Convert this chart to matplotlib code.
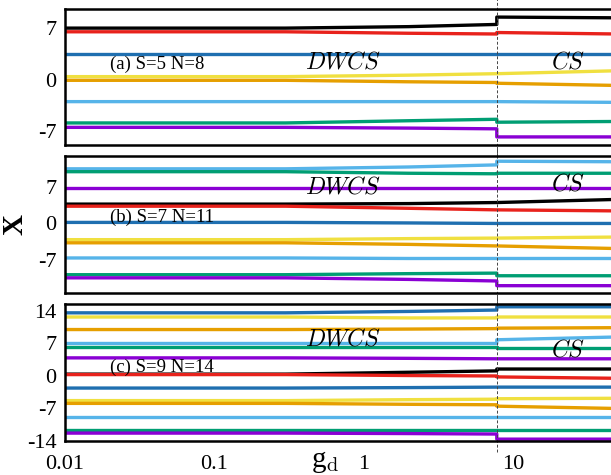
import numpy as np
import matplotlib.pyplot as plt

plt.rcParams['font.family'] = ['Liberation Serif', 'DejaVu Serif']
plt.rcParams['mathtext.fontset'] = 'cm'

# g_d sample points; the transition sits at g_d ~ 7.8 (listed twice for the jump)
g_c = 7.8
gd = [0.01, 0.3, 2.0, g_c, g_c, 50.0]

c_k = 'black'
c_r = '#e8221c'
c_b = '#1f6fb0'
c_y = '#f0e040'
c_o = '#e69f00'
c_lb = '#56b4e9'
c_g = '#009e73'
c_p = '#8a00d4'

# (a) S=5 N=8
xa = [
    (c_k,  [7.0, 7.0, 7.2, 7.5, 8.5, 8.4]),
    (c_r,  [6.5, 6.5, 6.3, 6.2, 6.4, 6.2]),
    (c_b,  [3.5, 3.5, 3.5, 3.5, 3.5, 3.5]),
    (c_y,  [0.4, 0.4, 0.6, 0.8, 0.8, 1.2]),
    (c_o,  [-0.1, -0.1, -0.3, -0.4, -0.5, -0.8]),
    (c_lb, [-3.0, -3.0, -3.0, -3.0, -3.0, -3.1]),
    (c_g,  [-5.9, -5.9, -5.6, -5.4, -5.8, -5.7]),
    (c_p,  [-6.5, -6.5, -6.6, -6.7, -7.8, -7.8]),
]

# (b) S=7 N=11
xb = [
    (c_lb, [10.45, 10.45, 10.8, 11.2, 11.9, 11.8]),
    (c_g,  [9.9, 9.9, 9.6, 9.5, 9.6, 9.6]),
    (c_p,  [6.8, 6.8, 6.8, 6.8, 6.8, 6.8]),
    (c_k,  [3.7, 3.7, 3.8, 4.0, 4.0, 4.6]),
    (c_r,  [3.3, 3.3, 2.9, 2.6, 2.6, 2.4]),
    (c_b,  [0.2, 0.2, 0.1, 0.0, 0.0, 0.0]),
    (c_y,  [-3.1, -3.1, -2.9, -2.8, -2.8, -2.6]),
    (c_o,  [-3.7, -3.7, -4.0, -4.3, -4.3, -4.8]),
    (c_lb, [-6.6, -6.6, -6.7, -6.7, -6.7, -6.7]),
    (c_g,  [-9.8, -9.8, -9.6, -9.5, -10.0, -10.0]),
    (c_p,  [-10.4, -10.4, -10.7, -11.0, -11.9, -11.9]),
]

# (c) S=9 N=14
xc = [
    (c_b,  [13.6, 13.6, 13.9, 14.2, 14.9, 14.9]),
    (c_y,  [12.7, 12.7, 12.5, 12.5, 12.7, 12.7]),
    (c_o,  [10.0, 10.0, 10.1, 10.2, 10.3, 10.4]),
    (c_lb, [7.0, 7.0, 7.0, 7.0, 7.8, 8.4]),
    (c_g,  [6.3, 6.3, 6.3, 6.3, 6.1, 6.1]),
    (c_p,  [3.9, 3.9, 3.8, 3.7, 3.7, 3.7]),
    (c_k,  [0.4, 0.4, 0.8, 1.1, 1.5, 1.5]),
    (c_r,  [0.3, 0.3, 0.1, 0.0, -0.2, -0.5]),
    (c_b,  [-2.6, -2.6, -2.5, -2.4, -2.4, -2.4]),
    (c_y,  [-5.3, -5.3, -5.1, -5.0, -4.9, -4.8]),
    (c_o,  [-5.9, -5.9, -6.1, -6.2, -6.5, -7.0]),
    (c_lb, [-8.8, -8.8, -8.8, -8.8, -8.8, -8.8]),
    (c_g,  [-11.6, -11.6, -11.6, -11.6, -11.6, -11.6]),
    (c_p,  [-12.3, -12.3, -12.4, -12.5, -13.6, -13.6]),
]

# lines, tag, ylim, yticks, tag y, DWCS y, CS y (axes fraction)
panels = [
    (xa, '(a) S=5 N=8', (-8.9, 9.6), [7, 0, -7], 0.59, 0.61, 0.61),
    (xb, '(b) S=7 N=11', (-13.3, 12.9), [7, 0, -7], 0.555, 0.77, 0.79),
    (xc, '(c) S=9 N=14', (-14, 15.5), [14, 7, 0, -7, -14], 0.54, 0.74, 0.66),
]

W, H = 611, 475
fig = plt.figure(figsize=(W / 100, H / 100), dpi=100)

boxes = [(9, 145), (156, 293), (304, 441)]
x0 = 65
xmax = 0.01 * 10 ** ((W - x0) / 149.3)

axes = []
for (lines, tag, ylim, yt, tag_y, dw_y, cs_y), (t, b) in zip(panels, boxes):
    ax = fig.add_axes([x0 / W, 1 - b / H, (W - x0) / W, (b - t) / H])
    for col, v in lines:
        ax.plot(gd, v, color=col, lw=2.4, solid_capstyle='butt')
    ax.axvline(g_c, ymin=-0.08, ymax=1.08, color='#444444', lw=0.7,
               ls=(0, (3, 2)), clip_on=False)
    ax.set_xscale('log')
    ax.set_xlim(0.01, xmax)
    ax.set_ylim(*ylim)
    ax.set_yticks(yt)
    ax.set_yticklabels([str(v) for v in yt])
    ax.tick_params(axis='both', length=0, labelsize=16, pad=6)
    ax.tick_params(axis='x', which='minor', length=0)
    ax.spines['right'].set_visible(False)
    for s in ('top', 'bottom', 'left'):
        ax.spines[s].set_linewidth(1.8)
    ax.text(0.082, tag_y, tag, transform=ax.transAxes, fontsize=13.5,
            va='center')
    ax.text(0.44, dw_y, r'$DWCS$', transform=ax.transAxes, fontsize=17,
            va='center')
    ax.text(0.89, cs_y, r'$CS$', transform=ax.transAxes, fontsize=17,
            va='center')
    axes.append(ax)

for ax in axes[:2]:
    ax.set_xticks([])
axes[2].set_xticks([0.01, 0.1, 1, 10])
axes[2].set_xticklabels(['0.01', '0.1', '1', '10'])
axes[2].tick_params(axis='x', pad=10)

fig.text(15 / W, 1 - 225 / H, 'X', fontsize=21, fontweight='bold',
         rotation=90, ha='center', va='center')
fig.text(325 / W, 1 - 462 / H, r'g$_\mathrm{d}$', fontsize=21,
         ha='center', va='center')

fig.savefig('out.png', dpi=100)
